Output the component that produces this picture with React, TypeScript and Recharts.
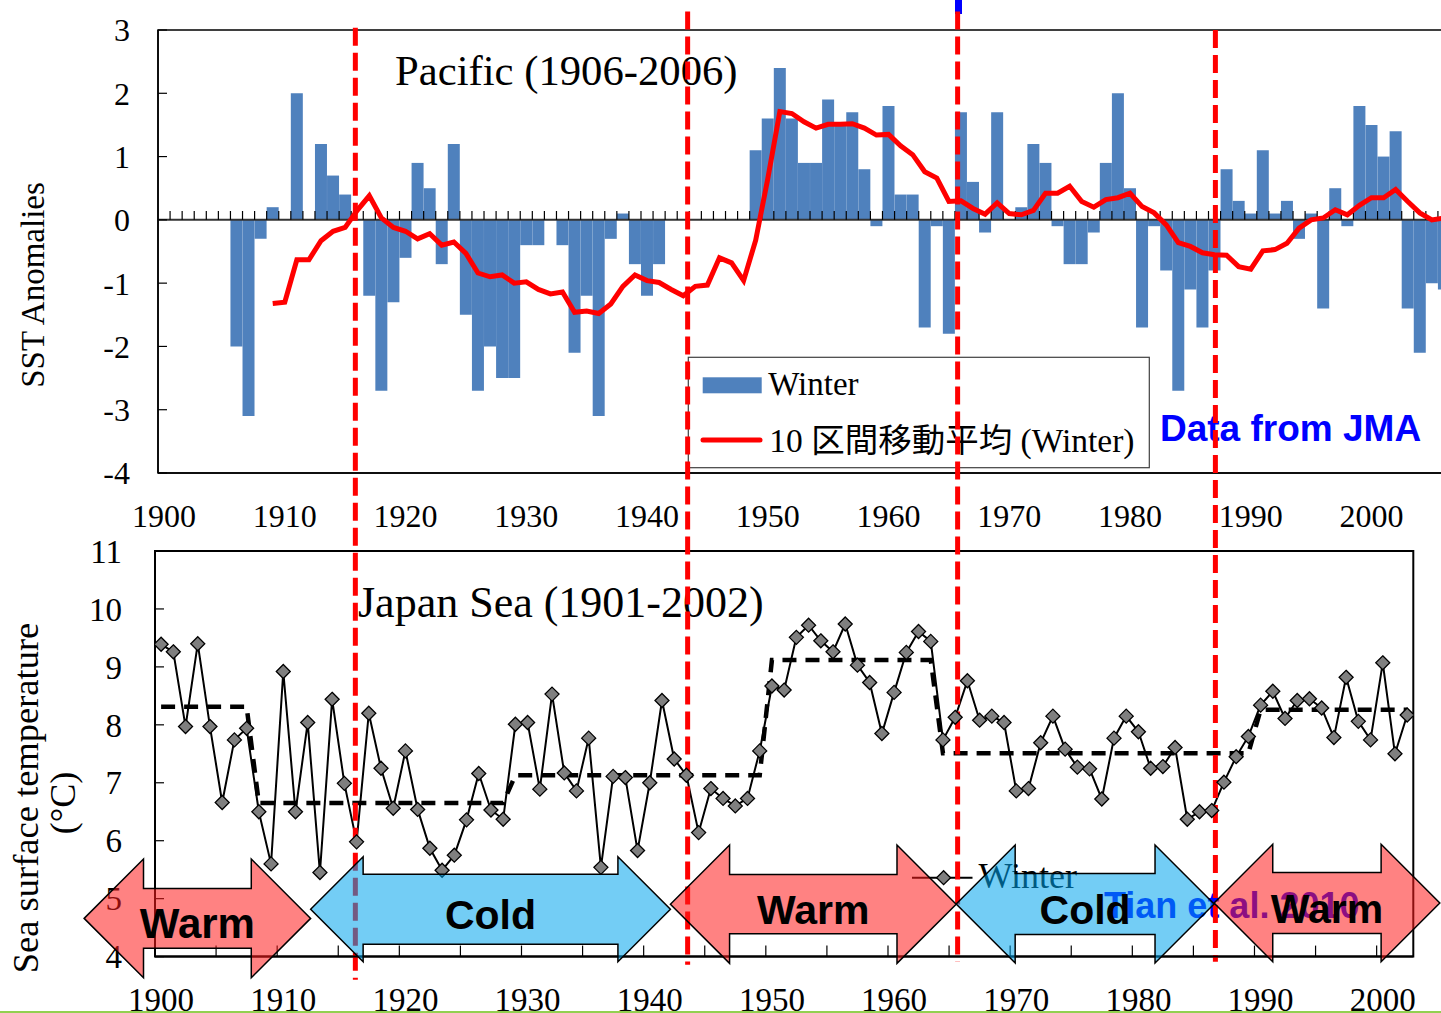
import React from "react";
import { Bar, ComposedChart, Line, LineChart, ReferenceArea, ReferenceLine, XAxis, YAxis } from "recharts";

// ---- Pacific (top) ----
const pacificYears = Array.from({ length: 107 }, (_, i) => 1900 + i);

const pacificWinter = [
  null, null, null, null, null, null, -2.0, -3.1, -0.3, 0.2,
  null, 2.0, null, 1.2, 0.7, 0.4, null, -1.2, -2.7, -1.3,
  -0.6, 0.9, 0.5, -0.7, 1.2, -1.5, -2.7, -2.0, -2.5, -2.5,
  -0.4, -0.4, null, -0.4, -2.1, -1.2, -3.1, -0.3, 0.1, -0.7,
  -1.2, -0.7, null, null, null, null, null, null, null, 1.1,
  1.6, 2.4, 1.6, 0.9, 0.9, 1.9, 1.5, 1.7, 0.8, -0.1,
  1.8, 0.4, 0.4, -1.7, -0.1, -1.8, 1.7, 0.6, -0.2, 1.7,
  null, 0.2, 1.2, 0.9, -0.1, -0.7, -0.7, -0.2, 0.9, 2.0,
  0.5, -1.7, -0.1, -0.8, -2.7, -1.1, -1.7, -0.8, 0.8, 0.3,
  0.1, 1.1, 0.1, 0.3, -0.3, 0.1, -1.4, 0.5, -0.1, 1.8,
  1.5, 1.0, 1.4, -1.4, -2.1, -1.0, -1.1,
];

const pacificMovingAverage = [
  null, null, null, null, null, null, null, null, null, -1.32,
  -1.3, -0.63, -0.63, -0.33, -0.18, -0.12, 0.15, 0.38, 0.03, -0.12,
  -0.18, -0.3, -0.22, -0.4, -0.35, -0.53, -0.84, -0.9, -0.87, -1.0,
  -0.98, -1.1, -1.17, -1.14, -1.46, -1.44, -1.48, -1.33, -1.05, -0.87,
  -0.96, -0.99, -1.1, -1.2, -1.05, -1.03, -0.6, -0.68, -0.96, -0.32,
  0.65, 1.71, 1.68, 1.55, 1.45, 1.51, 1.51, 1.52, 1.45, 1.34,
  1.35, 1.17, 1.03, 0.76, 0.66, 0.29, 0.3, 0.18, 0.09, 0.27,
  0.1, 0.08, 0.15, 0.42, 0.42, 0.53, 0.29, 0.2, 0.32, 0.35,
  0.42, 0.21, 0.11, -0.08, -0.36, -0.42, -0.52, -0.55, -0.56, -0.74,
  -0.78, -0.49, -0.47, -0.37, -0.13, 0.0, 0.03, 0.16, 0.08, 0.23,
  0.35, 0.35, 0.48, 0.29, 0.11, 0.0, 0.03,
];

const pacificTicks = [-4, -3, -2, -1, 0, 1, 2, 3];

// ---- Japan Sea (bottom) ----
const japanYears = Array.from({ length: 103 }, (_, i) => 1900 + i);

const japanWinter = [
  9.39, 9.26, 7.97, 9.4, 7.97, 6.66, 7.74, 7.94, 6.5, 5.6,
  8.92, 6.5, 8.04, 5.45, 8.44, 6.99, 5.98, 8.2, 7.25, 6.56,
  7.55, 6.54, 5.87, 5.49, 5.75, 6.36, 7.16, 6.53, 6.37, 8.01,
  8.04, 6.89, 8.53, 7.17, 6.86, 7.77, 5.54, 7.11, 7.09, 5.83,
  7.0, 8.42, 7.41, 7.13, 6.14, 6.9, 6.73, 6.6, 6.73, 7.55,
  8.67, 8.6, 9.51, 9.72, 9.45, 9.26, 9.74, 9.03, 8.73, 7.85,
  8.56, 9.25, 9.61, 9.44, 7.74, 8.13, 8.76, 8.08, 8.15, 8.04,
  6.86, 6.9, 7.69, 8.15, 7.58, 7.27, 7.24, 6.72, 7.77, 8.15,
  7.88, 7.25, 7.28, 7.61, 6.37, 6.5, 6.52, 7.01, 7.45, 7.8,
  8.34, 8.58, 8.11, 8.42, 8.45, 8.29, 7.78, 8.82, 8.06, 7.74,
  9.07, 7.5, 8.17,
];

// regime means (start year of each regime, mean value)
const regimeStart = [1900, 1908, 1929, 1950, 1964, 1990];
const regimeMean = [8.31, 6.65, 7.13, 9.12, 7.51, 8.26];

const japanTicks = [1900, 1910, 1920, 1930, 1940, 1950, 1960, 1970, 1980, 1990, 2000];
const japanYTicks = [4, 5, 6, 7, 8, 9, 10, 11];
const japanMinorTicks = Array.from({ length: 20 }, (_, i) => 1904.5 + i * 5);

// regime shifts (dashed red lines)
const shiftYears = [1915.9, 1943.1, 1965.2, 1986.3];

// warm / cold periods (arrows)
const periodLabels = ["Warm", "Cold", "Warm", "Cold", "Warm"];
const periodStart = [1893.7, 1912.24, 1941.69, 1965.08, 1986.19];
const periodEnd = [1912.24, 1941.69, 1965.08, 1986.19, 2004.67];

// layout of annotations
const shiftTop = [20.03, 20.31, 20.31, 19.99];
const shiftBottom = [3.6, 3.86, 3.91, 3.91];
const arrowTop = [5.684, 5.724, 5.926, 5.926, 5.938];
const arrowBottom = [3.635, 3.912, 3.884, 3.889, 3.912];
const arrowBody = [0.505, 0.667, 0.5, 0.517, 0.52];
const arrowFont = [42, 41, 41, 41, 41];

const SERIF = "'Liberation Serif', 'Times New Roman', serif";
const SANS = "'Liberation Sans', Arial, sans-serif";
const SERIF_JP = "'Liberation Serif', 'Noto Sans CJK JP', serif";

const pacificRows = pacificYears.map((year, i) => ({
  year,
  winter: pacificWinter[i],
  ma: pacificMovingAverage[i],
}));

const regimeOf = (year: number) => {
  let v = regimeMean[0];
  regimeStart.forEach((s, i) => {
    if (year >= s) v = regimeMean[i];
  });
  return v;
};

const japanRows = japanYears.map((year, i) => ({
  year,
  winter: japanWinter[i],
  regime: regimeOf(year),
}));

const Diamond = (props: any) => {
  const { cx, cy, index } = props;
  if (cx == null || cy == null) return <g key={`d-${index}`} />;
  const r = 7;
  return (
    <polygon
      key={`d-${index}`}
      points={`${cx},${cy - r} ${cx + r},${cy} ${cx},${cy + r} ${cx - r},${cy}`}
      fill="#7F7F7F"
      stroke="#000"
      strokeWidth={1.3}
    />
  );
};

const PacificChart = () => (
  <ComposedChart
    width={1460}
    height={540}
    data={pacificRows}
    margin={{ top: 30, right: 10, bottom: 17, left: 0 }}
    barCategoryGap={0}
    barGap={0}
  >
    <XAxis
      dataKey="year"
      interval={9}
      tickLine={false}
      tickSize={0}
      tickMargin={31}
      height={50}
      axisLine={{ stroke: "#000", strokeWidth: 1.5 }}
      tick={{ fill: "#000", fontSize: 32, fontFamily: SERIF }}
    />
    <YAxis
      width={158}
      domain={[-4, 3]}
      ticks={pacificTicks}
      allowDataOverflow
      tickSize={-9}
      tickMargin={37}
      axisLine={{ stroke: "#000", strokeWidth: 1.5 }}
      tickLine={{ stroke: "#000", strokeWidth: 1.2 }}
      tick={{ fill: "#000", fontSize: 32, fontFamily: SERIF }}
    />
    <ReferenceArea y1={-4} y2={3} fill="none" stroke="#000" strokeWidth={1.5} />
    <Bar dataKey="winter" fill="#4F81BD" isAnimationActive={false} />
    <ReferenceLine y={0} stroke="#333" strokeWidth={2} />
    {pacificYears.slice(1).map((y) => (
      <ReferenceLine
        key={`zt-${y}`}
        segment={[{ x: y, y: 0 }, { x: y, y: 0.14 }]}
        position="start"
        stroke="#000"
        strokeWidth={1.2}
      />
    ))}
    <Line
      type="linear"
      dataKey="ma"
      stroke="#FF0000"
      strokeWidth={5}
      dot={false}
      activeDot={false}
      isAnimationActive={false}
    />
    <text x={395} y={85} fontFamily={SERIF} fontSize={42.7} fill="#000">
      Pacific (1906-2006)
    </text>
    <text
      x={33}
      y={285}
      transform="rotate(-90 33 285)"
      textAnchor="middle"
      dominantBaseline="central"
      fontFamily={SERIF}
      fontSize={33}
      fill="#000"
    >
      SST Anomalies
    </text>
    <rect x={688.3} y={357.3} width={461} height={110.4} fill="#fff" stroke="#404040" strokeWidth={1.2} />
    <rect x={702.7} y={377.3} width={59} height={16} fill="#4F81BD" />
    <text x={768.3} y={395} fontFamily={SERIF} fontSize={33} fill="#000">
      Winter
    </text>
    <line x1={703} y1={440} x2={760} y2={440} stroke="#FF0000" strokeWidth={5} strokeLinecap="round" />
    <text x={769.3} y={451.7} fontFamily={SERIF_JP} fontSize={33.5} fill="#000">
      10 区間移動平均 (Winter)
    </text>
    <text x={1160} y={441} fontFamily={SANS} fontWeight="bold" fontSize={37} fill="#0000FF">
      Data from JMA
    </text>
    <rect x={955} y={0} width={7} height={14} fill="#0000FF" />
  </ComposedChart>
);

const JapanSeaChart = () => (
  <LineChart
    width={1441}
    height={1013}
    data={japanRows}
    margin={{ top: 551, right: 27.7, bottom: 6.4, left: 0 }}
  >
    <XAxis
      dataKey="year"
      type="number"
      domain={[1899.5, 2002.5]}
      allowDataOverflow
      ticks={japanTicks}
      interval={0}
      tickLine={false}
      tickSize={0}
      tickMargin={30.6}
      height={50}
      axisLine={{ stroke: "#000", strokeWidth: 2 }}
      tick={{ fill: "#000", fontSize: 33, fontFamily: SERIF }}
    />
    <YAxis
      width={155}
      domain={[4, 11]}
      ticks={japanYTicks}
      allowDataOverflow
      tickSize={-9}
      tickMargin={42}
      axisLine={{ stroke: "#000", strokeWidth: 2 }}
      tickLine={{ stroke: "#000", strokeWidth: 1.2 }}
      tick={{ fill: "#000", fontSize: 33, fontFamily: SERIF }}
    />
    <ReferenceArea y1={4} y2={11} fill="none" stroke="#000" strokeWidth={2} />
    {japanMinorTicks.map((y) => (
      <ReferenceLine
        key={`mt-${y}`}
        segment={[{ x: y, y: 4 }, { x: y, y: 4.19 }]}
        stroke="#000"
        strokeWidth={1.2}
      />
    ))}
    <Line
      type="linear"
      dataKey="regime"
      stroke="#000"
      strokeWidth={4.5}
      strokeDasharray="14 9"
      dot={false}
      activeDot={false}
      isAnimationActive={false}
    />
    <Line
      type="linear"
      dataKey="winter"
      stroke="#000"
      strokeWidth={2}
      dot={Diamond}
      activeDot={false}
      isAnimationActive={false}
    />
    <text x={358} y={617} fontFamily={SERIF} fontSize={44} fill="#000">
      Japan Sea (1901-2002)
    </text>
    <text
      x={25}
      y={798}
      transform="rotate(-90 25 798)"
      textAnchor="middle"
      dominantBaseline="central"
      fontFamily={SERIF}
      fontSize={36.5}
      fill="#000"
    >
      Sea surface temperature
    </text>
    <text
      x={63}
      y={803}
      transform="rotate(-90 63 803)"
      textAnchor="middle"
      dominantBaseline="central"
      fontFamily={SERIF}
      fontSize={36}
      fill="#000"
    >
      (°C)
    </text>
    <line x1={912} y1={877.7} x2={972.5} y2={877.7} stroke="#000" strokeWidth={2} />
    <polygon points="943.6,870.7 950.6,877.7 943.6,884.7 936.6,877.7" fill="#7F7F7F" stroke="#000" strokeWidth={1.3} />
    <text x={978.4} y={888} fontFamily={SERIF} fontSize={36} fill="#000">
      Winter
    </text>
    <text x={1104} y={918} fontFamily={SANS} fontWeight="bold" fontSize={36} fill="#0000FF">
      Tian et al. 2010
    </text>
    {shiftYears.map((yr, i) => (
      <ReferenceLine
        key={`shift-${yr}`}
        segment={[{ x: yr, y: shiftTop[i] }, { x: yr, y: shiftBottom[i] }]}
        ifOverflow="visible"
        stroke="#FF0000"
        strokeWidth={5}
        strokeDasharray="18 7"
      />
    ))}
  </LineChart>
);

const arrowShape = (i: number) => (props: any) => {
  const { x, y, width, height } = props;
  const cy = y + height / 2;
  const hh = height / 2;
  const bh = hh * arrowBody[i];
  const L = hh;
  const pts = [
    [x, cy],
    [x + L, y],
    [x + L, cy - bh],
    [x + width - L, cy - bh],
    [x + width - L, y],
    [x + width, cy],
    [x + width - L, y + height],
    [x + width - L, cy + bh],
    [x + L, cy + bh],
    [x + L, y + height],
  ]
    .map((p) => p.join(","))
    .join(" ");
  const warm = periodLabels[i] === "Warm";
  return (
    <g>
      <polygon
        points={pts}
        fill={warm ? "rgb(255,28,28)" : "rgb(0,164,237)"}
        fillOpacity={0.55}
        stroke="#000"
        strokeWidth={1.5}
      />
      <text
        x={x + width / 2}
        y={cy + 20}
        textAnchor="middle"
        fontFamily={SANS}
        fontWeight="bold"
        fontSize={arrowFont[i]}
        fill="#000"
      >
        {periodLabels[i]}
      </text>
    </g>
  );
};

const PeriodArrows = () => (
  <LineChart
    width={1441}
    height={1013}
    data={japanRows}
    margin={{ top: 551, right: 27.7, bottom: 56.4, left: 155 }}
  >
    <XAxis dataKey="year" type="number" domain={[1899.5, 2002.5]} allowDataOverflow hide />
    <YAxis domain={[4, 11]} allowDataOverflow hide />
    <Line dataKey="winter" stroke="none" dot={false} activeDot={false} isAnimationActive={false} />
    {periodLabels.map((label, i) => (
      <ReferenceArea
        key={`p-${i}`}
        x1={periodStart[i]}
        x2={periodEnd[i]}
        y1={arrowBottom[i]}
        y2={arrowTop[i]}
        ifOverflow="visible"
        shape={arrowShape(i)}
      />
    ))}
  </LineChart>
);

export default function App() {
  return (
    <div
      style={{
        position: "fixed",
        left: 0,
        top: 0,
        width: 1441,
        height: 1013,
        overflow: "hidden",
        background: "#fff",
      }}
    >
      <div style={{ position: "absolute", left: 0, top: 0 }}>
        <PacificChart />
      </div>
      <div style={{ position: "absolute", left: 0, top: 0 }}>
        <JapanSeaChart />
      </div>
      <div style={{ position: "absolute", left: 0, top: 0 }}>
        <PeriodArrows />
      </div>
      <div style={{ position: "absolute", left: 0, top: 1011, width: 1441, height: 2, background: "#92D050" }} />
    </div>
  );
}
